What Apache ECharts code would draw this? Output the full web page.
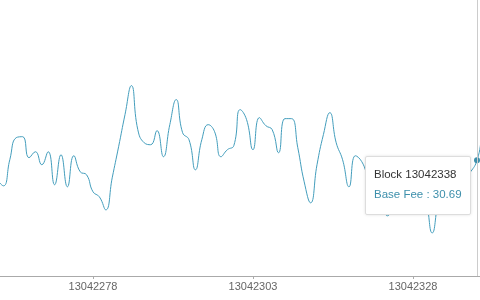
<!DOCTYPE html>
<html>
<head>
<meta charset="utf-8">
<script src="https://cdn.jsdelivr.net/npm/echarts@6/dist/echarts.min.js"></script>
<style>
html,body{margin:0;padding:0;background:#fff;}
#chart{width:480px;height:300px;}
</style>
</head>
<body>
<div id="chart"></div>
<script>
// Block numbers (categories)
const blocks = [
  13042263,13042264,13042265,13042266,13042267,13042268,13042269,13042270,13042271,13042272,
  13042273,13042274,13042275,13042276,13042277,13042278,13042279,13042280,13042281,13042282,
  13042283,13042284,13042285,13042286,13042287,13042288,13042289,13042290,13042291,13042292,
  13042293,13042294,13042295,13042296,13042297,13042298,13042299,13042300,13042301,13042302,
  13042303,13042304,13042305,13042306,13042307,13042308,13042309,13042310,13042311,13042312,
  13042313,13042314,13042315,13042316,13042317,13042318,13042319,13042320,13042321,13042322,
  13042323,13042324,13042325,13042326,13042327,13042328,13042329,13042330,13042331,13042332,
  13042333,13042334,13042335,13042336,13042337,13042338,13042339,13042340
];
// Base fee (gwei)
const baseFee = [
  28.89,28.33,30.74,32.78,32.87,30.93,31.48,30.28,31.48,28.43,
  31.20,28.24,31.11,29.63,29.35,27.78,27.31,26.11,29.07,31.94,
  34.91,37.59,33.52,32.31,32.13,33.43,31.02,33.98,36.30,33.24,
  32.59,29.81,32.59,33.98,33.33,31.02,31.67,32.04,35.37,34.44,
  31.67,34.63,33.89,33.52,31.39,34.54,34.54,31.85,28.70,26.76,
  30.28,33.06,35.09,32.31,30.74,28.24,31.11,30.56,29.07,27.96,
  26.57,25.56,27.50,29.35,28.89,27.96,28.43,27.04,23.98,27.04,
  28.89,29.35,28.70,29.07,29.63,30.69,33.24,34.44
];
// Blocks whose labels are shown on the axis
const labelledBlocks = [13042278, 13042303, 13042328];
const hoveredBlock = 13042338;

const lineColor = '#3d8fab';
const chart = echarts.init(document.getElementById('chart'), null, {renderer: 'canvas'});
const showLabel = (idx, val) => labelledBlocks.indexOf(Number(val)) >= 0;

chart.setOption({
  animation: false,
  grid: {left: -3, right: -9.8, top: 0, bottom: 24, containLabel: false, outerBoundsMode: 'none'},
  tooltip: {
    trigger: 'axis',
    alwaysShowContent: true,
    transitionDuration: 0,
    backgroundColor: '#fff',
    borderColor: '#ddd',
    borderWidth: 1,
    padding: [7, 8, 10, 8],
    extraCssText: 'box-shadow: 0 0 3px rgba(0,0,0,0.12); border-radius: 2px; line-height: 20px;',
    textStyle: {fontFamily: 'Liberation Sans, Arial, sans-serif', fontSize: 11.5, color: '#333'},
    axisPointer: {type: 'line', lineStyle: {color: '#ccc', width: 1, type: 'solid'}},
    position: function (point, params, dom, rect, size) {
      return [point[0] - size.contentSize[0] - 6, point[1] - 4];
    },
    formatter: function (params) {
      const p = params[0];
      return 'Block ' + p.name + '<br/><span style="color:' + lineColor + '">Base Fee : ' + p.value.toFixed(2) + '</span>';
    }
  },
  xAxis: {
    type: 'category',
    boundaryGap: false,
    data: blocks.map(String),
    axisLine: {onZero: false, lineStyle: {color: '#aaa', width: 1}},
    axisTick: {show: true, interval: showLabel, length: 3, lineStyle: {color: '#aaa'}},
    axisLabel: {interval: showLabel, margin: 5, color: '#666', fontSize: 11, fontFamily: 'Liberation Sans, Arial, sans-serif'},
    splitLine: {show: false}
  },
  yAxis: {
    type: 'value',
    show: false,
    min: 20,
    max: 45.5,
    splitLine: {show: false}
  },
  series: [{
    type: 'line',
    name: 'Base Fee',
    data: baseFee,
    smooth: true,
    showSymbol: false,
    symbol: 'circle',
    symbolSize: 5,
    itemStyle: {color: lineColor},
    lineStyle: {color: lineColor, width: 1},
    emphasis: {lineStyle: {width: 1}}
  }]
});

chart.dispatchAction({type: 'showTip', seriesIndex: 0, dataIndex: blocks.indexOf(hoveredBlock)});
</script>
</body>
</html>
